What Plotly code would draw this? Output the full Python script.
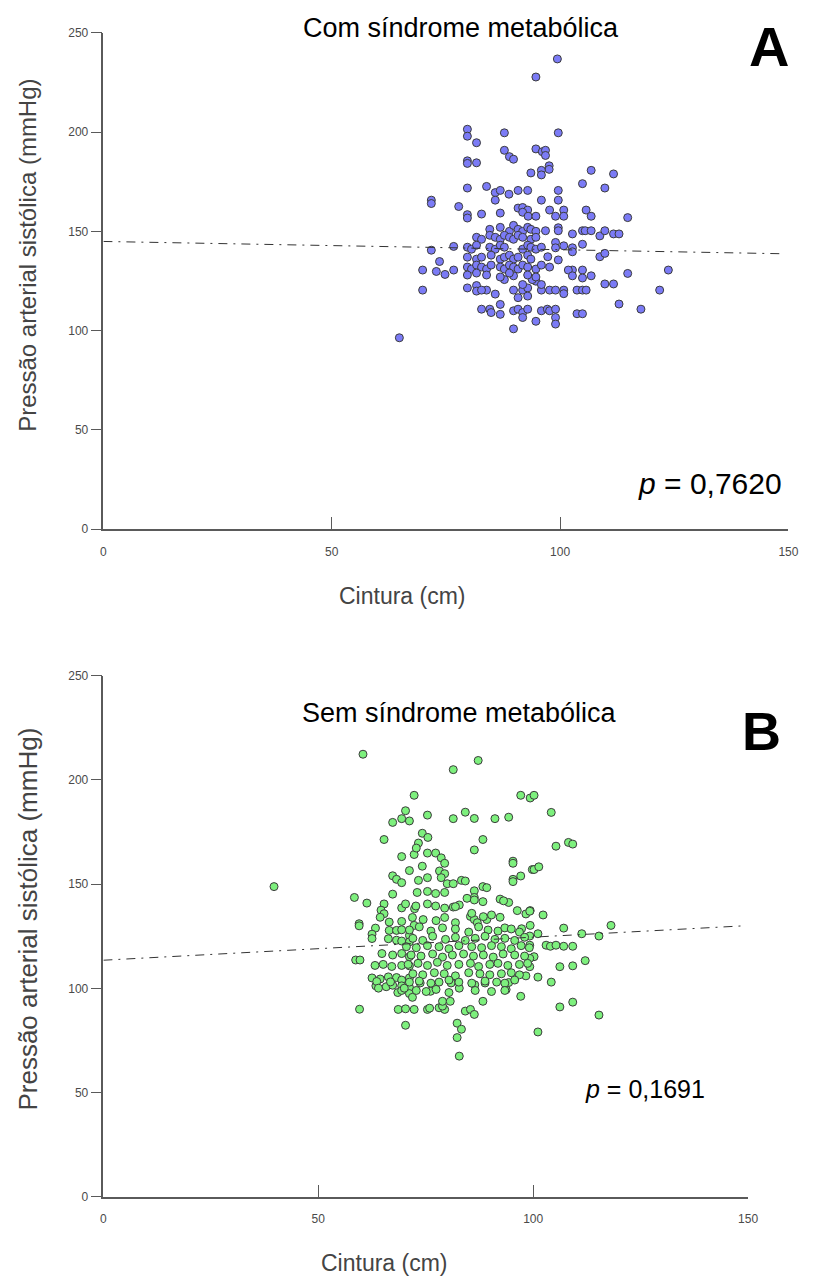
import plotly.graph_objects as go

# ---------------- data ----------------
X_TICKS = [0, 50, 100, 150]
Y_TICKS = [0, 50, 100, 150, 200, 250]

WAIST_A = [
    99.4, 94.7, 79.7, 79.7, 87.8, 99.6, 81.7, 87.8, 88.9, 89.8,
    94.7, 96.1, 96.8, 96.8, 79.7, 79.7, 81.7, 97.6, 97.6, 95.9,
    95.9, 93.6, 106.8, 111.7, 104.9, 109.8, 79.7, 83.9, 85.8, 86.9,
    88.8, 90.8, 92.9, 99.6, 85.8, 95.9, 99.6, 71.8, 71.8, 77.8,
    79.7, 79.7, 82.8, 86.9, 90.8, 91.8, 92.9, 91.8, 93.0, 94.7,
    97.7, 99.0, 100.8, 100.8, 105.7, 106.8, 114.8, 102.7, 104.9, 105.5,
    106.8, 108.7, 109.8, 111.7, 112.9, 96.8, 99.6, 99.6, 104.9, 102.7,
    102.7, 100.8, 99.0, 99.0, 108.7, 109.8, 97.3, 99.6, 76.7, 71.8,
    73.6, 69.9, 72.9, 74.8, 76.7, 69.9, 64.8, 123.7, 114.8, 121.8,
    117.7, 112.9, 109.8, 111.7, 106.8, 104.9, 104.9, 102.7, 101.8, 102.7,
    103.7, 104.9, 105.7, 100.8, 100.8, 97.7, 99.0, 95.9, 103.7, 104.9,
    99.0, 99.0, 94.7, 89.8, 95.9, 97.2, 97.7, 99.0, 89.8, 90.8,
    91.8, 92.9, 91.8, 82.8, 84.6, 84.9, 86.9, 86.9, 79.7, 81.7,
    81.7, 83.9, 82.8, 85.8, 89.8, 90.8, 91.8, 92.9, 92.9, 91.8,
    94.7, 95.9, 93.9, 87.8, 89.8,
    84.6, 86.9, 88.9, 89.8, 90.8, 91.8, 92.9, 93.6, 94.7,
    81.7, 82.8, 84.6, 85.8, 86.9, 87.8, 88.9, 89.8, 90.8, 91.8, 93.6, 94.7,
    79.7, 80.6, 81.7, 84.6, 85.8, 86.9, 87.8, 91.8, 92.9, 93.6, 94.7, 95.9,
    79.7, 81.7, 82.8, 84.9, 86.9, 87.8, 88.9, 89.8, 90.8, 92.9, 93.6,
    79.7, 80.6, 81.7, 82.8, 83.9, 84.9, 86.9, 87.8, 88.9, 89.8, 90.8, 91.8, 92.9, 94.7, 95.9, 97.7,
    79.7, 81.7, 83.9, 86.9, 88.9, 92.9, 94.7,
]
SBP_A = [
    236.8, 227.7, 201.4, 197.9, 199.6, 199.6, 194.6, 190.8, 187.6, 186.3,
    191.5, 190.1, 190.8, 188.2, 185.5, 184.2, 184.5, 183.0, 181.2, 180.7,
    178.4, 179.4, 180.7, 178.9, 174.0, 171.8, 171.8, 172.6, 169.5, 170.6,
    168.7, 170.6, 170.6, 170.6, 165.7, 165.7, 165.7, 165.7, 164.0, 162.5,
    158.4, 156.7, 158.7, 159.2, 161.7, 162.0, 160.7, 159.6, 157.6, 157.6,
    160.7, 157.6, 160.7, 157.6, 160.7, 157.6, 156.9, 148.7, 150.3, 150.3,
    150.3, 147.7, 150.3, 148.7, 148.7, 150.3, 151.8, 150.3, 143.5, 141.7,
    139.7, 142.7, 144.4, 141.7, 137.2, 138.9, 137.2, 135.6, 142.4, 140.5,
    134.8, 130.5, 129.8, 128.3, 130.5, 120.4, 96.4, 130.5, 128.8, 120.4,
    110.8, 113.4, 123.5, 123.5, 127.6, 130.5, 126.5, 130.5, 130.5, 127.6,
    120.4, 120.4, 120.4, 120.4, 118.6, 120.4, 120.4, 120.4, 108.5, 108.5,
    106.6, 103.3, 104.7, 100.9, 110.0, 110.8, 110.0, 110.8, 110.0, 110.8,
    109.1, 110.8, 106.6, 110.8, 110.8, 109.1, 113.2, 108.2, 121.5, 122.7,
    119.9, 120.4, 120.4, 118.4, 120.4, 116.6, 120.4, 121.5, 117.4, 123.2,
    124.9, 123.2, 125.7, 125.7, 127.6,
    151, 152, 150, 153, 151, 150, 152, 151, 150,
    147, 146, 148, 147, 146, 148, 147, 146, 148, 147, 146, 147,
    142, 141, 143, 142, 141, 143, 142, 141, 143, 142, 141, 142,
    137, 136, 137, 138, 136, 137, 138, 136, 137, 138, 136,
    132, 131, 133, 132, 131, 133, 132, 131, 133, 132, 131, 133, 132, 131, 133, 132,
    128, 129, 128, 127, 129, 128, 127,
]

WAIST_B = [
    60.4, 39.7, 72.3, 70.3, 67.3, 69.4, 71.2, 65.3, 69.4, 72.3,
    71.2, 67.3, 68.2, 69.4, 67.3, 58.4, 61.3, 65.3, 64.6, 65.3,
    64.4, 69.4, 70.3, 72.4, 59.5, 59.5, 63.3, 62.5, 62.5, 66.5,
    69.4, 72.3, 66.5, 68.2, 69.4, 71.2, 66.3, 68.2, 69.4, 71.2,
    58.7, 59.7, 64.8, 67.3, 69.4, 71.2, 63.2, 65.1, 67.1, 69.4,
    71.2, 62.5, 64.4, 66.3, 68.2, 69.4, 71.2, 63.4, 65.8, 67.3,
    69.4, 71.2, 68.5, 69.4, 71.2, 59.6, 68.6, 70.3, 72.3, 70.3,
    87.2, 81.4, 97.1, 99.3, 75.4, 81.4, 84.2, 86.3, 91.1, 94.3,
    88.3, 86.3, 95.3, 95.3, 74.2, 75.5, 73.3, 72.8, 75.4, 77.3,
    78.6, 79.4, 74.2, 78.2, 79.4, 78.6, 73.3, 75.4, 80.0, 81.4,
    83.3, 84.2, 88.3, 89.2, 86.3, 86.3, 95.3, 97.1, 95.3, 99.8,
    92.3, 94.3, 93.1, 73.0, 75.4, 77.3, 79.4, 82.8, 81.4, 79.4,
    77.3, 75.4, 72.7, 71.9, 74.4, 77.4, 79.4, 81.9, 85.4, 86.3,
    87.0, 89.2, 92.3, 96.3, 99.3, 98.3, 99.3, 97.3, 88.3, 97.1,
    84.2, 85.4, 86.3, 82.3, 83.3, 82.3, 82.8, 75.4, 78.1, 79.4,
    100.2, 104.2, 105.3, 108.2, 109.2, 100.2, 101.3, 99.2, 102.3, 99.2,
    101.1, 107.1, 118.1, 111.3, 115.3, 99.2, 103.0, 104.0, 105.3, 107.1,
    109.2, 100.2, 99.2, 99.2, 106.2, 109.2, 112.1, 101.1, 104.2, 98.3,
    106.2, 109.2, 115.3, 101.1, 75.9, 78.9, 93.7, 94.3, 63.6, 64.0,
    66.8, 70.0, 71.9, 73.7, 76.1, 78.9, 80.7, 80.9, 82.8, 86.4,
    88.8, 81.9, 84.6, 86.3, 88.3, 85.7, 88.4, 90.3,
    71.2, 73.5, 76.2, 78.9, 81.9, 85.0, 87.3, 89.5, 91.8, 93.4, 94.9, 96.8,
    72.0, 74.3, 76.6, 79.6, 81.9, 84.2, 86.5, 88.8, 91.1, 93.4, 95.7, 98.0,
    70.5, 72.8, 75.4, 78.1, 80.4, 82.7, 85.7, 88.0, 90.3, 92.6, 94.9, 97.2, 99.1,
    71.6, 73.9, 76.6, 78.9, 81.2, 83.8, 86.1, 88.4, 90.7, 93.0, 95.7, 98.0,
    70.9, 73.2, 75.4, 77.7, 80.0, 82.7, 85.4, 87.3, 89.9, 91.8, 94.1, 96.8, 98.7,
    72.0, 74.3, 77.0, 79.3, 81.9, 85.0, 87.6, 89.9, 92.6, 94.9, 96.8,
    71.2, 73.5, 76.2, 78.1, 80.4, 82.7, 85.7, 88.8, 91.5, 93.4, 95.7,
    72.8, 75.1, 77.4, 80.4, 86.5, 90.3, 93.4,
]
SBP_B = [
    212.3, 148.8, 192.6, 185.2, 179.6, 181.4, 180.3, 171.4, 163.2, 164.2,
    156.5, 154.0, 152.3, 150.7, 145.2, 143.6, 140.9, 140.5, 137.5, 135.8,
    134.1, 138.6, 140.5, 138.2, 131.0, 130.0, 128.9, 126.0, 123.9, 131.8,
    132.1, 130.2, 127.8, 127.8, 128.1, 125.4, 123.8, 123.1, 122.7, 122.3,
    113.6, 113.6, 116.7, 116.0, 116.7, 115.2, 111.0, 111.5, 110.5, 111.0,
    110.8, 105.0, 104.5, 105.5, 105.2, 104.0, 105.0, 101.2, 100.8, 101.5,
    101.2, 100.5, 98.0, 99.0, 97.5, 90.0, 89.9, 90.2, 89.9, 82.3,
    209.3, 204.9, 192.6, 191.3, 183.1, 181.4, 184.5, 181.5, 181.4, 182.1,
    171.4, 166.4, 161.0, 160.0, 174.4, 172.4, 169.7, 167.3, 164.9, 164.9,
    162.6, 160.0, 158.6, 156.3, 155.0, 153.1, 151.8, 153.1, 150.2, 150.2,
    151.8, 151.5, 148.8, 148.3, 146.8, 143.6, 152.3, 153.9, 151.2, 157.0,
    142.8, 141.2, 142.0, 146.0, 146.5, 145.5, 146.0, 140.0, 139.0, 138.5,
    139.5, 140.5, 139.5, 134.0, 133.0, 132.5, 134.0, 131.5, 134.5, 133.0,
    131.5, 133.0, 134.1, 137.3, 137.3, 135.7, 130.2, 128.6, 93.8, 96.2,
    89.1, 89.9, 87.5, 83.3, 80.4, 76.4, 67.5, 89.9, 90.7, 89.9,
    192.6, 184.4, 168.2, 170.0, 169.2, 157.0, 158.3, 137.0, 135.2, 125.1,
    126.2, 128.9, 130.2, 126.2, 125.1, 120.7, 120.7, 120.2, 120.7, 120.2,
    120.2, 115.2, 114.4, 110.4, 110.4, 110.8, 113.3, 105.4, 103.0, 106.0,
    91.1, 93.4, 87.2, 79.1, 90.5, 91.5, 99.4, 102.8, 103.3, 100.1,
    103.1, 100.1, 95.7, 102.6, 98.6, 93.8, 93.8, 102.6, 100.1, 101.7,
    102.6, 139.2, 143.2, 142.4, 141.6, 136.0, 134.4, 135.2,
    128.0, 129.5, 127.5, 129.0, 128.5, 127.0, 129.5, 128.0, 127.5, 129.0, 128.5, 127.0,
    124.0, 123.0, 125.0, 123.5, 124.5, 123.0, 124.0, 125.0, 123.5, 124.0, 123.0, 124.5,
    120.0, 119.5, 120.5, 120.0, 119.0, 120.5, 120.0, 119.5, 120.5, 120.0, 119.0, 120.5, 119.5,
    116.0, 115.5, 116.5, 115.0, 116.0, 116.5, 115.5, 116.0, 115.0, 116.5, 116.0, 115.5,
    111.5, 112.0, 111.0, 112.5, 111.0, 111.5, 112.0, 110.5, 111.5, 112.0, 111.0, 111.5, 112.0,
    107.0, 106.5, 107.5, 107.0, 106.0, 107.5, 107.0, 106.5, 107.0, 107.5, 106.5,
    103.0, 103.5, 102.5, 103.0, 104.0, 103.0, 102.5, 103.5, 103.0, 102.5, 104.0,
    99.0, 98.5, 99.5, 98.0, 99.0, 98.5, 99.0,
]

TREND_A_X = [0, 149]
TREND_A_Y = [144.9, 138.7]
TREND_B_X = [0, 149]
TREND_B_Y = [113.5, 130.0]

TITLE_A = "Com síndrome metabólica"
TITLE_B = "Sem síndrome metabólica"
P_A = "<i>p</i> = 0,7620"
P_B = "<i>p</i> = 0,1691"
X_TITLE = "Cintura (cm)"
Y_TITLE = "Pressão arterial sistólica (mmHg)"

# ---------------- figure ----------------
FONT = "Liberation Sans, Arial, sans-serif"
AXCOL = "#5a5a5a"
W, H = 827, 1283

fig = go.Figure()
fig.add_trace(go.Scatter(x=WAIST_A, y=SBP_A, mode="markers", xaxis="x", yaxis="y",
                         marker=dict(size=8, color="#7B7BF6", line=dict(width=1, color="#3c3c3c")),
                         cliponaxis=False))
fig.add_trace(go.Scatter(x=TREND_A_X, y=TREND_A_Y, mode="lines", xaxis="x", yaxis="y",
                         line=dict(color="#333333", width=1, dash="9px,6px,2px,6px")))
fig.add_trace(go.Scatter(x=WAIST_B, y=SBP_B, mode="markers", xaxis="x2", yaxis="y2",
                         marker=dict(size=8, color="#7DF07D", line=dict(width=1, color="#3c3c3c")),
                         cliponaxis=False))
fig.add_trace(go.Scatter(x=TREND_B_X, y=TREND_B_Y, mode="lines", xaxis="x2", yaxis="y2",
                         line=dict(color="#333333", width=1, dash="9px,6px,2px,6px")))


def px_x(p):
    return p / W


def px_y(p):
    return 1 - p / H


xcommon = dict(range=[0, 150], tickvals=X_TICKS, showline=True, linecolor=AXCOL, linewidth=2,
               ticks="inside", ticklen=12, tickwidth=1, tickcolor=AXCOL,
               tickfont=dict(family=FONT, size=12, color="#4a4a4a"), ticklabelstandoff=10,
               showgrid=False, zeroline=False, fixedrange=True)
ycommon = dict(range=[0, 250], tickvals=Y_TICKS, showline=True, linecolor=AXCOL, linewidth=1.5,
               ticks="outside", ticklen=11, tickwidth=1, tickcolor=AXCOL,
               tickfont=dict(family=FONT, size=12, color="#4a4a4a"),
               showgrid=False, zeroline=False, fixedrange=True)
yinner = dict(range=[0, 250], tickvals=Y_TICKS, showline=False, ticks="inside", ticklen=11,
              tickwidth=1, tickcolor=AXCOL, showticklabels=False, showgrid=False, zeroline=False)

fig.update_layout(
    width=W, height=H, margin=dict(l=0, r=0, t=0, b=0),
    paper_bgcolor="white", plot_bgcolor="white", showlegend=False,
    xaxis=dict(domain=[px_x(102), px_x(798)], anchor="y", **xcommon),
    yaxis=dict(domain=[px_y(528), px_y(26)], anchor="x", **ycommon),
    xaxis2=dict(domain=[px_x(102), px_x(757)], anchor="y2", **xcommon),
    yaxis2=dict(domain=[px_y(1203), px_y(676)], anchor="x2", **ycommon),
    yaxis3=dict(overlaying="y", anchor="x", **yinner),
    yaxis4=dict(overlaying="y2", anchor="x2", **yinner),
)

ann = []


def add(text, x, y, size, color="black", angle=0, bold=False):
    if bold:
        text = "<b>" + text + "</b>"
    ann.append(dict(text=text, x=px_x(x), y=px_y(y), xref="paper", yref="paper",
                    showarrow=False, xanchor="center", yanchor="middle", textangle=angle,
                    font=dict(family=FONT, size=size, color=color)))


add(TITLE_A, 465, 21, 27)
add(TITLE_B, 464, 714, 27)
add("A", 778, 40, 56, bold=True)
add("B", 771, 732, 54, bold=True)
add(P_A, 718, 482, 30)
add(P_B, 652, 1094, 25)
add(X_TITLE, 406, 595, 23, color="#444444")
add(X_TITLE, 388, 1270, 23, color="#444444")
add(Y_TITLE, 25, 251, 24, color="#444444", angle=-90)
add(Y_TITLE, 25, 922, 26, color="#444444", angle=-90)
fig.update_layout(annotations=ann)

fig.write_html("out.html")
